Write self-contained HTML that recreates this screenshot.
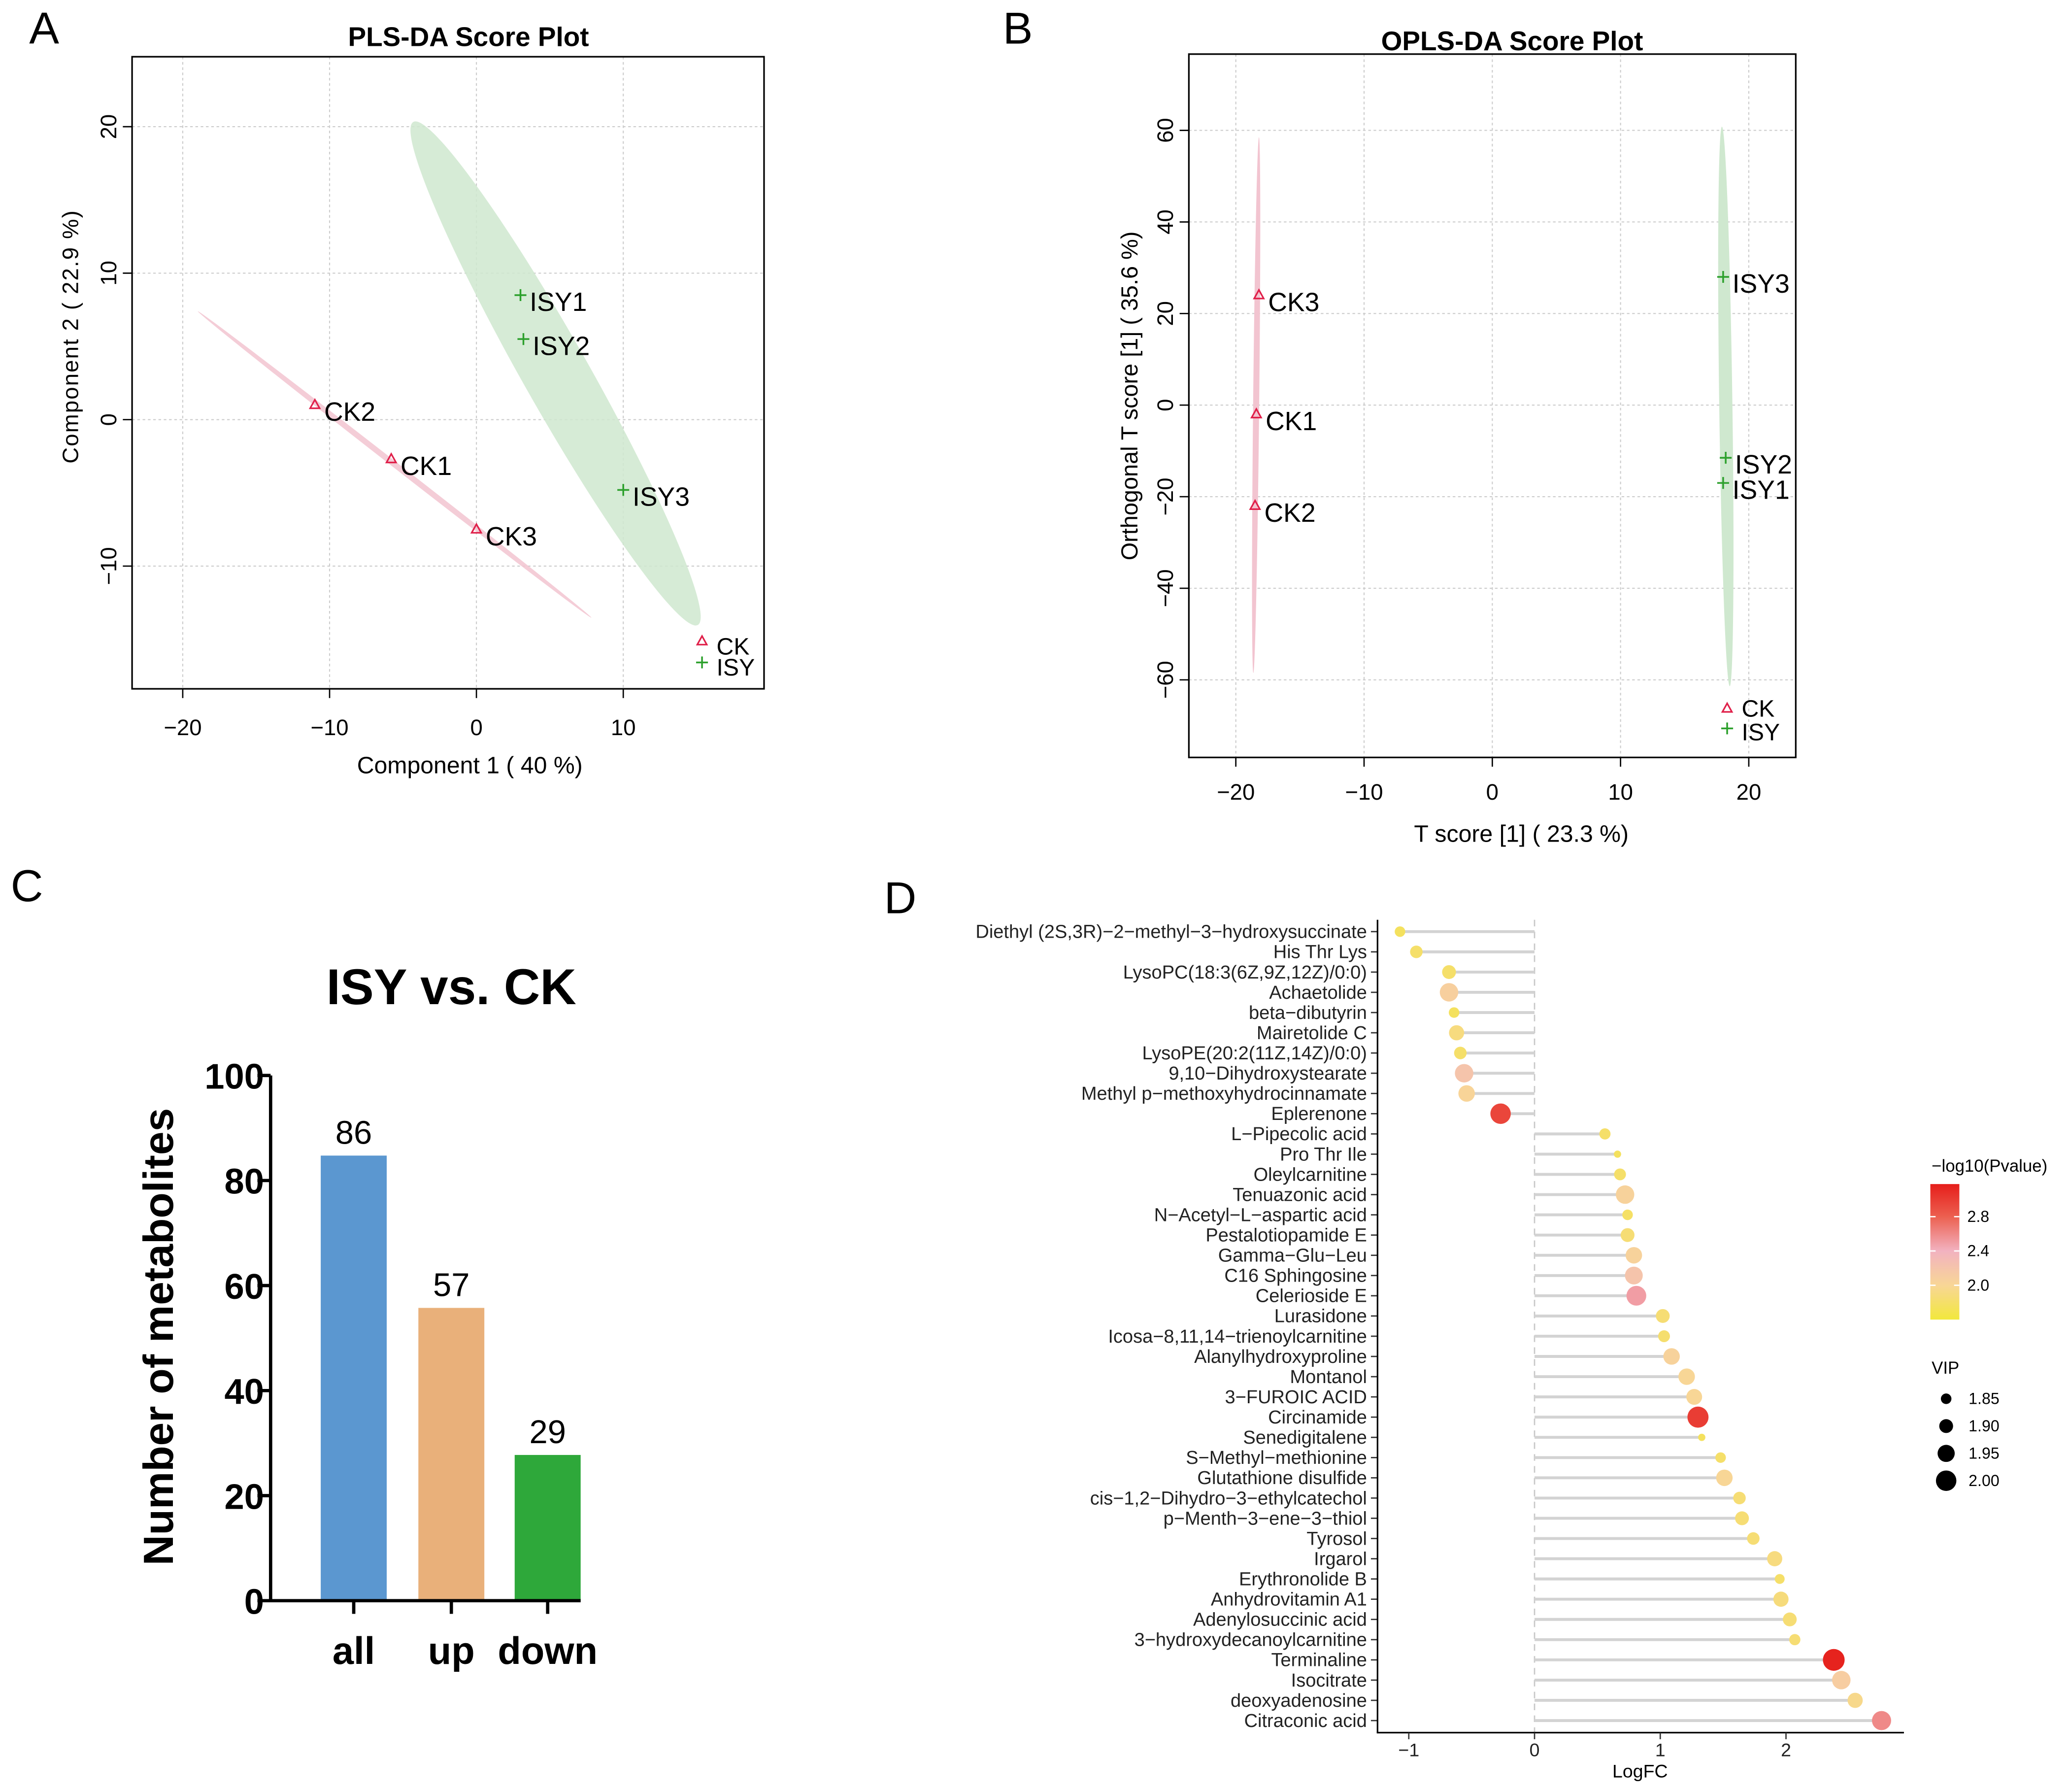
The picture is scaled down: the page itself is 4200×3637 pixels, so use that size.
<!DOCTYPE html>
<html><head><meta charset="utf-8"><style>
html,body{margin:0;padding:0;background:#fff}
svg{display:block;font-family:"Liberation Sans",Arial,sans-serif}
</style></head><body>
<svg id="fig" width="4200" height="3637" viewBox="0 0 1568 1358" xmlns="http://www.w3.org/2000/svg">
<rect width="1568" height="1358" fill="#fff"/>
<g id="gA"></g>
<g id="gB"></g>
<g id="gC"></g>
<g id="gD"></g>
</svg>
<script>
// ---------- Panel A data ----------
const plsNames = ["CK2","CK1","CK3","ISY1","ISY2","ISY3"];
const plsX = [-11,-5.8,0,3,3.2,10];
const plsY = [1,-2.7,-7.5,8.5,5.5,-4.8];
const plsGroup = ["CK","CK","CK","ISY","ISY","ISY"];
const plsXTicks = [-20,-10,0,10];
const plsYTicks = [20,10,0,-10];
// ---------- Panel B data ----------
const oplsNames = ["CK3","CK1","CK2","ISY3","ISY2","ISY1"];
const oplsX = [-18.2,-18.4,-18.5,18,18.2,18];
const oplsY = [24,-2,-22,28,-11.5,-17];
const oplsGroup = ["CK","CK","CK","ISY","ISY","ISY"];
const oplsXTicks = [-20,-10,0,10,20];
const oplsYTicks = [60,40,20,0,-20,-40,-60];
// ---------- Panel C data ----------
const barCats = ["all","up","down"];
const barVals = [86,57,29];
const barTicks = [0,20,40,60,80,100];
// ---------- Panel D data ----------
const metNames = ["Diethyl (2S,3R)\u22122\u2212methyl\u22123\u2212hydroxysuccinate","His Thr Lys","LysoPC(18:3(6Z,9Z,12Z)/0:0)","Achaetolide","beta\u2212dibutyrin","Mairetolide C","LysoPE(20:2(11Z,14Z)/0:0)","9,10\u2212Dihydroxystearate","Methyl p\u2212methoxyhydrocinnamate","Eplerenone","L\u2212Pipecolic acid","Pro Thr Ile","Oleylcarnitine","Tenuazonic acid","N\u2212Acetyl\u2212L\u2212aspartic acid","Pestalotiopamide E","Gamma\u2212Glu\u2212Leu","C16 Sphingosine","Celerioside E","Lurasidone","Icosa\u22128,11,14\u2212trienoylcarnitine","Alanylhydroxyproline","Montanol","3\u2212FUROIC ACID","Circinamide","Senedigitalene","S\u2212Methyl\u2212methionine","Glutathione disulfide","cis\u22121,2\u2212Dihydro\u22123\u2212ethylcatechol","p\u2212Menth\u22123\u2212ene\u22123\u2212thiol","Tyrosol","Irgarol","Erythronolide B","Anhydrovitamin A1","Adenylosuccinic acid","3\u2212hydroxydecanoylcarnitine","Terminaline","Isocitrate","deoxyadenosine","Citraconic acid"];
const metLogFC = [-1.07,-0.94,-0.68,-0.68,-0.64,-0.62,-0.59,-0.56,-0.54,-0.27,0.56,0.66,0.68,0.72,0.74,0.74,0.79,0.79,0.81,1.02,1.03,1.09,1.21,1.27,1.30,1.33,1.48,1.51,1.63,1.65,1.74,1.91,1.95,1.96,2.03,2.07,2.38,2.44,2.55,2.76];
const metP = [1.75,1.8,1.8,2.08,1.75,1.9,1.8,2.2,2.02,2.95,1.8,1.75,1.8,2.05,1.78,1.85,2.05,2.2,2.5,1.85,1.82,2.05,2.0,2.0,3.0,1.75,1.8,2.0,1.85,1.85,1.85,1.9,1.8,1.88,1.85,1.85,3.15,2.1,1.95,2.6];
const metVIP = [1.85,1.88,1.9,1.97,1.85,1.92,1.88,1.97,1.94,2.0,1.86,1.8,1.87,1.97,1.85,1.9,1.94,1.96,1.99,1.9,1.87,1.94,1.94,1.93,2.01,1.8,1.85,1.94,1.88,1.9,1.88,1.92,1.84,1.92,1.9,1.86,2.02,1.97,1.92,1.98];
const lfcTicks = [-1,0,1,2];
const pTicks = [2.0,2.4,2.8];
const vipTicks = [1.85,1.90,1.95,2.00];

const NS="http://www.w3.org/2000/svg";
function mk(parent,tag,attrs,text){const e=document.createElementNS(NS,tag);for(const k in attrs)e.setAttribute(k,attrs[k]);if(text!==undefined)e.textContent=text;parent.appendChild(e);return e;}
function tri(g,x,y){return mk(g,"path",{d:`M${x},${y-4} L${x+3.6},${y+2.5} L${x-3.6},${y+2.5} Z`,fill:"none",stroke:"#e0204a","stroke-width":1.2});}
function plus(g,x,y){return mk(g,"path",{d:`M${x-4.5},${y} H${x+4.5} M${x},${y-4.5} V${y+4.5}`,stroke:"#2ca02c","stroke-width":1.3});}

// ===== Panel A =====
(function(){
const g=document.getElementById("gA");
const sx=v=>361+v*11.13, sy=v=>318-v*11.1;
let t=mk(g,"text",{x:22,y:33,"font-size":34},"A");


t=mk(g,"text",{x:355,y:35,"font-size":20.5,"font-weight":"bold","text-anchor":"middle"},"PLS-DA Score Plot");


plsXTicks.forEach(v=>{mk(g,"line",{x1:sx(v),x2:sx(v),y1:43,y2:522,stroke:"#ccc","stroke-dasharray":"2,2","stroke-width":0.8});
 mk(g,"line",{x1:sx(v),x2:sx(v),y1:522,y2:529,stroke:"#000"});
 const l=mk(g,"text",{x:sx(v),y:557,"font-size":17,"text-anchor":"middle"},String(v).replace("-","\u2212"));
 
 });
plsYTicks.forEach(v=>{mk(g,"line",{x1:100,x2:579,y1:sy(v),y2:sy(v),stroke:"#ccc","stroke-dasharray":"2,2","stroke-width":0.8});
 mk(g,"line",{x1:93,x2:100,y1:sy(v),y2:sy(v),stroke:"#000"});
 const l=mk(g,"text",{x:0,y:0,"font-size":17,"text-anchor":"middle",transform:`translate(88,${sy(v)}) rotate(-90)`},String(v).replace("-","\u2212"));
 
 });
let e=mk(g,"ellipse",{cx:0,cy:0,rx:189,ry:2.2,fill:"#f2c4d0",opacity:0.85,transform:"translate(299,352) rotate(37.9)"});


e=mk(g,"ellipse",{cx:0,cy:0,rx:219,ry:25,fill:"#cfe8cf",opacity:0.85,transform:"translate(421,283) rotate(60.5)"});


mk(g,"rect",{x:100,y:43,width:479,height:479,fill:"none",stroke:"#000","stroke-width":1.2});
plsNames.forEach((n,i)=>{const x=sx(plsX[i]),y=sy(plsY[i]);
 const p=plsGroup[i]==="CK"?tri(g,x,y):plus(g,x,y);
 
 
 const l=mk(g,"text",{x:x+7,y:y+12,"font-size":20},n);
 
 });
let lg=tri(g,532,486);
lg=plus(g,532,502);
t=mk(g,"text",{x:543,y:496,"font-size":18},"CK");
t=mk(g,"text",{x:543,y:512,"font-size":18},"ISY");
t=mk(g,"text",{x:356,y:586,"font-size":18,"text-anchor":"middle"},"Component 1 ( 40 %)");
t=mk(g,"text",{x:0,y:0,"font-size":17,"letter-spacing":0.8,"text-anchor":"middle",transform:"translate(59,255) rotate(-90)"},"Component 2 ( 22.9 %)");
})();

// ===== Panel B =====
(function(){
const g=document.getElementById("gB");
const sx=v=>1131+v*9.72, sy=v=>307-v*3.47;
let t=mk(g,"text",{x:760,y:33,"font-size":34},"B");
t=mk(g,"text",{x:1146,y:38,"font-size":20.5,"font-weight":"bold","text-anchor":"middle"},"OPLS-DA Score Plot");
oplsXTicks.forEach(v=>{mk(g,"line",{x1:sx(v),x2:sx(v),y1:41,y2:574,stroke:"#ccc","stroke-dasharray":"2,2","stroke-width":0.8});
 mk(g,"line",{x1:sx(v),x2:sx(v),y1:574,y2:581,stroke:"#000"});
 const l=mk(g,"text",{x:sx(v),y:606,"font-size":17,"text-anchor":"middle"},String(v).replace("-","\u2212"));
 });
oplsYTicks.forEach(v=>{mk(g,"line",{x1:901,x2:1361,y1:sy(v),y2:sy(v),stroke:"#ccc","stroke-dasharray":"2,2","stroke-width":0.8});
 mk(g,"line",{x1:894,x2:901,y1:sy(v),y2:sy(v),stroke:"#000"});
 const l=mk(g,"text",{x:0,y:0,"font-size":17,"text-anchor":"middle",transform:`translate(889,${sy(v)}) rotate(-90)`},String(v).replace("-","\u2212"));
 });
let e=mk(g,"ellipse",{cx:952,cy:307,rx:2.3,ry:203,fill:"#f2c4d0",transform:"rotate(0.6 952 307)"});

e=mk(g,"ellipse",{cx:1308,cy:308,rx:5,ry:212,fill:"#cfe8cf",transform:"rotate(-0.8 1308 308)"});

mk(g,"rect",{x:901,y:41,width:460,height:533,fill:"none",stroke:"#000","stroke-width":1.2});
oplsNames.forEach((n,i)=>{const x=sx(oplsX[i]),y=sy(oplsY[i]);
 const p=oplsGroup[i]==="CK"?tri(g,x,y):plus(g,x,y);
 
 const l=mk(g,"text",{x:x+7,y:y+12,"font-size":20},n);
 });
let lg=tri(g,1309,537);
lg=plus(g,1309,552);
t=mk(g,"text",{x:1320,y:543,"font-size":18},"CK");
t=mk(g,"text",{x:1320,y:561,"font-size":18},"ISY");
t=mk(g,"text",{x:1153,y:638,"font-size":18,"text-anchor":"middle"},"T score [1] ( 23.3 %)");
t=mk(g,"text",{x:0,y:0,"font-size":17.5,"text-anchor":"middle",transform:"translate(862,300) rotate(-90)"},"Orthogonal T score [1] ( 35.6 %)");
})();

// ===== Panel C =====
(function(){
const g=document.getElementById("gC");
const y0=1213, sy=v=>y0-v*3.98;
const cx=[268,342,415], colors=["#5b97d0","#e9b07a","#2ea83a"];
let t=mk(g,"text",{x:8,y:683,"font-size":34},"C");
t=mk(g,"text",{x:342,y:761,"font-size":38,"font-weight":"bold","text-anchor":"middle"},"ISY vs. CK");
barVals.forEach((v,i)=>{
 const b=mk(g,"rect",{x:cx[i]-25,y:sy(v)+5,width:50,height:y0-sy(v)-5,fill:colors[i]});
 
 const l=mk(g,"text",{x:cx[i],y:sy(v)-4,"font-size":25,"text-anchor":"middle"},String(v));
 
 mk(g,"line",{x1:cx[i],x2:cx[i],y1:y0,y2:y0+10,stroke:"#000","stroke-width":2.5});
 const c=mk(g,"text",{x:cx[i],y:1261,"font-size":29,"font-weight":"bold","text-anchor":"middle"},barCats[i]);
 });
barTicks.forEach(v=>{mk(g,"line",{x1:195,x2:205,y1:sy(v),y2:sy(v),stroke:"#000","stroke-width":2.5});
 const l=mk(g,"text",{x:200,y:sy(v)+10,"font-size":27,"font-weight":"bold","text-anchor":"end"},String(v));
 });
mk(g,"line",{x1:205,x2:205,y1:sy(100),y2:y0+1.2,stroke:"#000","stroke-width":2.5});
mk(g,"line",{x1:204,x2:440,y1:y0,y2:y0,stroke:"#000","stroke-width":2.5});
t=mk(g,"text",{x:0,y:0,"font-size":32,"font-weight":"bold","text-anchor":"middle",transform:"translate(131,1013) rotate(-90)"},"Number of metabolites");
})();

// ===== Panel D =====
(function(){
const g=document.getElementById("gD");
const sx=v=>1163+v*95.3, sy=i=>706+i*15.33;
function pcol(p){const stops=[[1.6,[242,232,60]],[2.0,[248,214,150]],[2.4,[242,178,192]],[2.8,[236,96,80]],[3.18,[230,30,26]]];
 if(p<=stops[0][0])return `rgb(${stops[0][1]})`;
 for(let k=0;k<stops.length-1;k++){const a=stops[k],b=stops[k+1];if(p<=b[0]){const f=(p-a[0])/(b[0]-a[0]);return `rgb(${a[1].map((c,j)=>Math.round(c+(b[1][j]-c)*f)).join(",")})`;}}
 return `rgb(${stops[stops.length-1][1]})`;}
const rad=v=>Math.max(2.5,4+(v-1.85)*25);
let t=mk(g,"text",{x:670,y:692,"font-size":34},"D");
mk(g,"line",{x1:sx(0),x2:sx(0),y1:697,y2:1313,stroke:"#c8c8c8","stroke-dasharray":"5,4","stroke-width":1});
metNames.forEach((n,i)=>{const y=sy(i),x=sx(metLogFC[i]);
 const s=mk(g,"line",{x1:sx(0),x2:x,y1:y,y2:y,stroke:"#d3d3d3","stroke-width":2.2});
 
 const c=mk(g,"circle",{cx:x,cy:y,r:rad(metVIP[i]),fill:pcol(metP[i])});
 
 mk(g,"line",{x1:1039,x2:1044,y1:y,y2:y,stroke:"#333","stroke-width":1});
 const l=mk(g,"text",{x:1036,y:y+4.8,"font-size":14.2,"text-anchor":"end",fill:"#222"},n);
 });
mk(g,"line",{x1:1044,x2:1044,y1:697,y2:1313,stroke:"#000","stroke-width":1.2});
mk(g,"line",{x1:1043.4,x2:1443,y1:1313,y2:1313,stroke:"#000","stroke-width":1.2});
lfcTicks.forEach(v=>{mk(g,"line",{x1:sx(v),x2:sx(v),y1:1313,y2:1318,stroke:"#333"});
 const l=mk(g,"text",{x:sx(v),y:1331,"font-size":14,"text-anchor":"middle",fill:"#222"},String(v).replace("-","\u2212"));
 });
t=mk(g,"text",{x:1243,y:1347,"font-size":14,"text-anchor":"middle"},"LogFC");
t=mk(g,"text",{x:1464,y:888,"font-size":13},"\u2212log10(Pvalue)");
const defs=mk(g,"defs",{});const lgr=mk(defs,"linearGradient",{id:"cbar",x1:0,y1:1,x2:0,y2:0});
[1.6,2.0,2.4,2.8,3.18].forEach(s=>{mk(lgr,"stop",{offset:((s-1.6)/1.58*100)+"%","stop-color":pcol(s)});});
const psy=p=>974-(p-2.0)*65;
const cb=mk(g,"rect",{x:1463,y:psy(3.18),width:22,height:psy(1.6)-psy(3.18),fill:"url(#cbar)"});

pTicks.forEach(p=>{mk(g,"line",{x1:1463,x2:1467,y1:psy(p),y2:psy(p),stroke:"#fff"});mk(g,"line",{x1:1481,x2:1485,y1:psy(p),y2:psy(p),stroke:"#fff"});
 const l=mk(g,"text",{x:1491,y:psy(p)+4,"font-size":12},p.toFixed(1));});
t=mk(g,"text",{x:1464,y:1041,"font-size":13},"VIP");
vipTicks.forEach((v,k)=>{const y=1060+k*20.7;
 const c=mk(g,"circle",{cx:1475,cy:y,r:rad(v),fill:"#000"});
 const l=mk(g,"text",{x:1492,y:y+4,"font-size":12},v.toFixed(2));});
})();
</script>
</body></html>
